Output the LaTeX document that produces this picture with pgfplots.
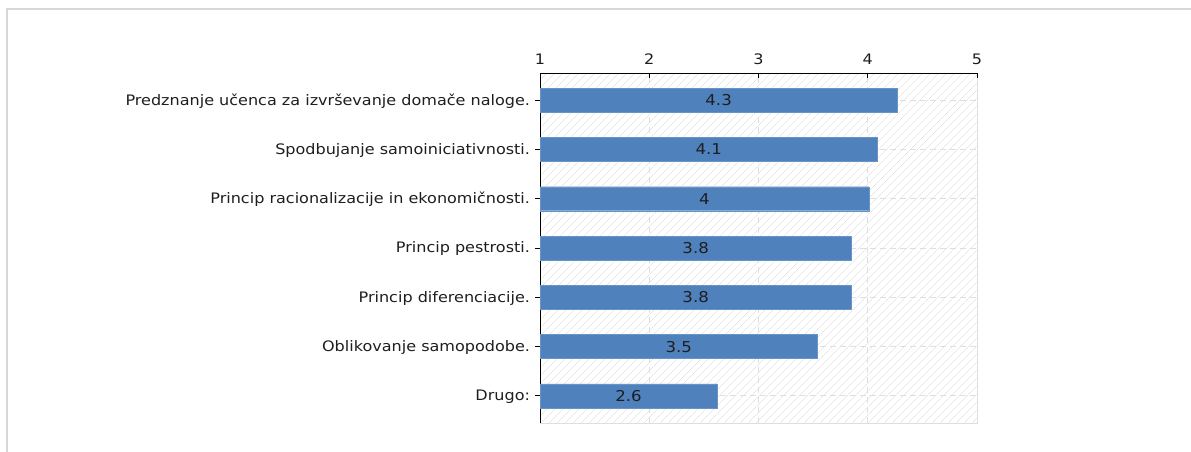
\documentclass[border=0pt]{standalone}
\usepackage{fontspec}
\setmainfont[FakeStretch=1.11]{DejaVu Sans}
\usepackage{pgfplots}
\usepackage{pgfplotstable}
\pgfplotsset{compat=1.18}
\usetikzlibrary{patterns.meta}
\definecolor{barblue}{RGB}{79,129,189}
\definecolor{gridgray}{RGB}{222,222,222}
\definecolor{framegray}{RGB}{215,215,215}
\definecolor{txt}{RGB}{30,30,30}

\pgfplotstableread{
y v lbl
6 4.27 4.3
5 4.09 4.1
4 4.01 4
3 3.85 3.8
2 3.85 3.8
1 3.54 3.5
0 2.62 2.6
}\data

\begin{document}
\begin{tikzpicture}
\useasboundingbox (0,0) rectangle (1191bp,452bp);
\draw[framegray, line width=2bp] (7bp,0) -- (7bp,443bp) -- (1191bp,443bp);
\begin{axis}[
  at={(540bp,29bp)}, anchor=south west,
  scale only axis, width=437bp, height=350bp,
  xmin=1, xmax=5, ymin=-0.55, ymax=6.55,
  axis x line*=top, axis y line*=left,
  axis line style={black, line width=1bp},
  xtick={1,2,3,4,5}, ytick={0,1,2,3,4,5,6},
  yticklabels={Drugo:, Oblikovanje samopodobe., Princip diferenciacije., Princip pestrosti., Princip racionalizacije in ekonomičnosti., Spodbujanje samoiniciativnosti., Predznanje učenca za izvrševanje domače naloge.},
  xmajorgrids, ymajorgrids,
  grid style={gridgray, line width=0.8bp, dash pattern=on 6bp off 4bp},
  axis background/.style={fill=white, draw=gridgray, line width=1bp,
    postaction={pattern={Lines[angle=45,distance=6bp,line width=0.5bp]}, pattern color=gray!32}},
  tick align=outside, major tick length=5bp,
  tick style={black, line width=0.8bp},
  xtick style={yshift=-5bp},
  ticklabel style={font=\fontsize{14.5}{16}\selectfont, text=txt},
  yticklabel style={xshift=-1.5bp, yshift=-1bp},
  /pgf/number format/assume math mode=true,
]
\addplot[xbar, bar width=24bp, bar shift=0pt, fill=barblue, draw=barblue!85!white] table[x=v, y=y] {\data};
\addplot[draw=none, mark=none, nodes near coords, point meta=explicit symbolic,
  every node near coord/.style={anchor=center, font=\fontsize{15}{16}\selectfont, text=txt}]
  table[x expr={(\thisrow{v}+1)/2}, y=y, meta=lbl] {\data};
\end{axis}
\end{tikzpicture}
\end{document}
